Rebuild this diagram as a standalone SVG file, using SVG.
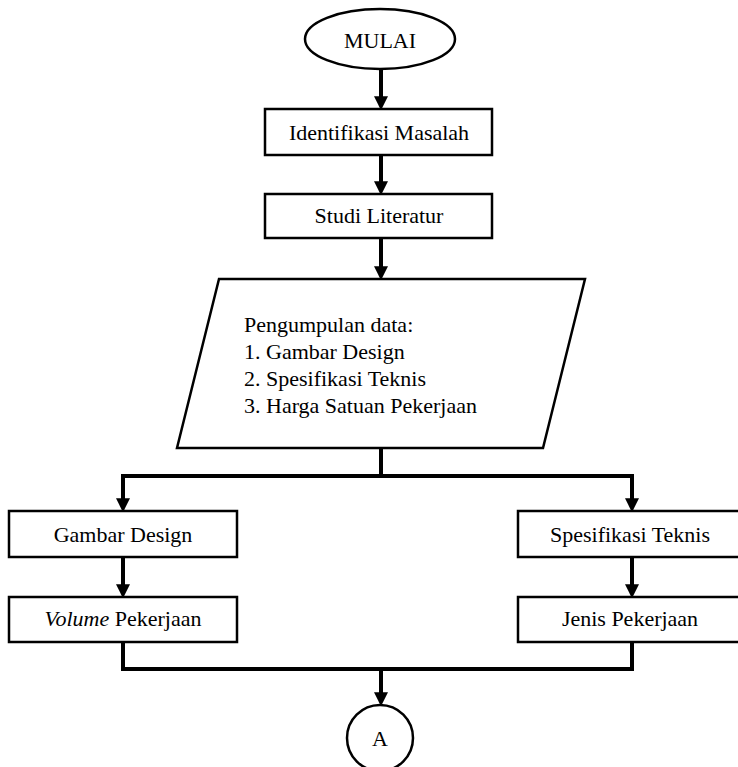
<svg xmlns="http://www.w3.org/2000/svg" width="738" height="767" viewBox="0 0 738 767">
<style>
.shape{fill:#fff;stroke:#000;stroke-width:2.5}
.t{font-family:"Liberation Serif","Times New Roman",serif;font-size:22px;fill:#000}
.c{text-anchor:middle}
.ln{fill:none;stroke:#000;stroke-width:4}
</style>
<defs>
<marker id="ah" markerUnits="userSpaceOnUse" markerWidth="14" markerHeight="14" viewBox="0 0 12 12" refX="4" refY="6" orient="auto">
<path d="M0,0 L12,6 L0,12 z" fill="#000"/>
</marker>
</defs>
<rect width="738" height="767" fill="#fff"/>
<g id="connectors">
<path class="ln" d="M381,69 V101" marker-end="url(#ah)"/>
<path class="ln" d="M381,155 V186" marker-end="url(#ah)"/>
<path class="ln" d="M381,238 V271" marker-end="url(#ah)"/>
<path class="ln" d="M381,448 V476"/>
<path class="ln" d="M383,476 H123 V503" marker-end="url(#ah)"/>
<path class="ln" d="M379,476 H632 V503" marker-end="url(#ah)"/>
<path class="ln" d="M123,557 V589" marker-end="url(#ah)"/>
<path class="ln" d="M632,557 V589" marker-end="url(#ah)"/>
<path class="ln" d="M123,642 V669 H632 V642"/>
<path class="ln" d="M381,669 V697" marker-end="url(#ah)"/>
</g>
<g id="mulai">
<ellipse class="shape" cx="380" cy="39" rx="75" ry="30"/>
<text class="t c" x="380" y="48">MULAI</text>
</g>
<g id="identifikasi">
<rect class="shape" x="265" y="109" width="227" height="46"/>
<text class="t c" x="379" y="140">Identifikasi Masalah</text>
</g>
<g id="studi">
<rect class="shape" x="265" y="194" width="227" height="44"/>
<text class="t c" x="379" y="223">Studi Literatur</text>
</g>
<g id="pengumpulan">
<polygon class="shape" points="219,279 585,279 543,448 177,448"/>
<text class="t" x="244" y="332">Pengumpulan data:</text>
<text class="t" x="244" y="359">1. Gambar Design</text>
<text class="t" x="244" y="386">2. Spesifikasi Teknis</text>
<text class="t" x="244" y="413">3. Harga Satuan Pekerjaan</text>
</g>
<g id="gambar">
<rect class="shape" x="9" y="511" width="228" height="46"/>
<text class="t c" x="123" y="542">Gambar Design</text>
</g>
<g id="volume">
<rect class="shape" x="9" y="597" width="228" height="45"/>
<text class="t c" x="123" y="626"><tspan font-style="italic">Volume</tspan> Pekerjaan</text>
</g>
<g id="spesifikasi">
<rect class="shape" x="518" y="511" width="228" height="46"/>
<text class="t c" x="630" y="542">Spesifikasi Teknis</text>
</g>
<g id="jenis">
<rect class="shape" x="518" y="597" width="228" height="45"/>
<text class="t c" x="630" y="626">Jenis Pekerjaan</text>
</g>
<g id="a">
<circle class="shape" cx="380" cy="738" r="33"/>
<text class="t c" x="380" y="746">A</text>
</g>
</svg>
